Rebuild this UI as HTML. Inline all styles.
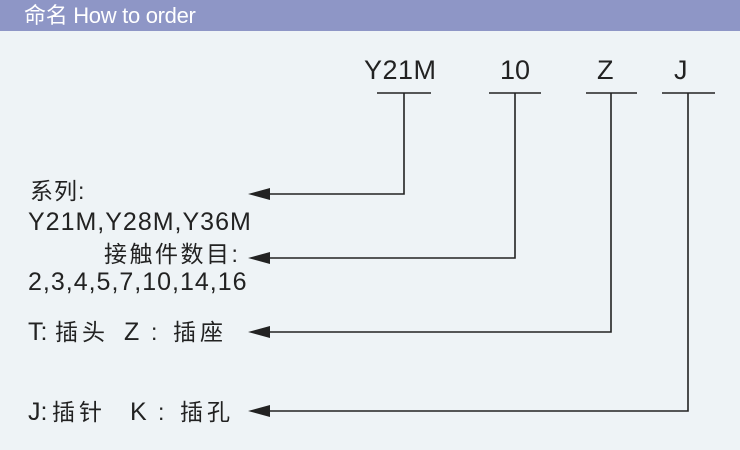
<!DOCTYPE html>
<html><head><meta charset="utf-8"><style>
body{margin:0;width:740px;height:450px;background:#eef3f6;overflow:hidden;position:relative;font-family:"Liberation Sans","Noto Sans CJK SC",sans-serif;color:#222}
.h{position:absolute;left:0;top:0;width:740px;height:31px;background:#8e96c6;color:#fff;font-size:22px;line-height:31px;padding-left:24px;box-sizing:border-box;letter-spacing:-0.3px}
.t{position:absolute;white-space:nowrap;line-height:1}
.c{font-size:23px}
.l{font-size:25px}
.top{font-size:27px;top:57px}
</style></head><body>
<div class="h">命名 How to order</div>
<div class="t top" style="left:364px;letter-spacing:0.5px">Y21M</div>
<div class="t top" style="left:500px">10</div>
<div class="t top" style="left:597px">Z</div>
<div class="t top" style="left:674px">J</div>
<div class="t c" style="left:30px;top:180px;letter-spacing:1px">系列:</div>
<div class="t l" style="left:28px;top:210px;letter-spacing:1px">Y21M,Y28M,Y36M</div>
<div class="t c" style="left:104px;top:243px;letter-spacing:2.5px">接触件数目:</div>
<div class="t l" style="left:28px;top:270px;letter-spacing:1px">2,3,4,5,7,10,14,16</div>
<div class="t l" style="left:28px;top:320px">T:</div>
<div class="t c" style="left:55px;top:321px;letter-spacing:4px">插头</div>
<div class="t l" style="left:124px;top:320px">Z</div>
<div class="t c" style="left:151px;top:321px">:</div>
<div class="t c" style="left:173px;top:321px;letter-spacing:4px">插座</div>
<div class="t l" style="left:28px;top:400px">J:</div>
<div class="t c" style="left:52px;top:401px;letter-spacing:4px">插针</div>
<div class="t l" style="left:130px;top:400px">K</div>
<div class="t c" style="left:158px;top:401px">:</div>
<div class="t c" style="left:180px;top:401px;letter-spacing:4px">插孔</div>
<svg width="740" height="450" style="position:absolute;left:0;top:0">
<g stroke="#222" stroke-width="1.6" fill="none">
<line x1="377" y1="93" x2="431" y2="93"/><line x1="489" y1="93" x2="541" y2="93"/>
<line x1="586" y1="93" x2="637" y2="93"/><line x1="662" y1="93" x2="715" y2="93"/>
<polyline points="404,93 404,194 262,194"/>
<polyline points="515,93 515,258 262,258"/>
<polyline points="611,93 611,332 262,332"/>
<polyline points="688,93 688,411 262,411"/>
</g>
<g fill="#222">
<polygon points="248,194 270,188 270,200"/>
<polygon points="248,258 270,252 270,264"/>
<polygon points="248,332 270,326 270,338"/>
<polygon points="248,411 270,405 270,417"/>
</g>
</svg>
</body></html>
